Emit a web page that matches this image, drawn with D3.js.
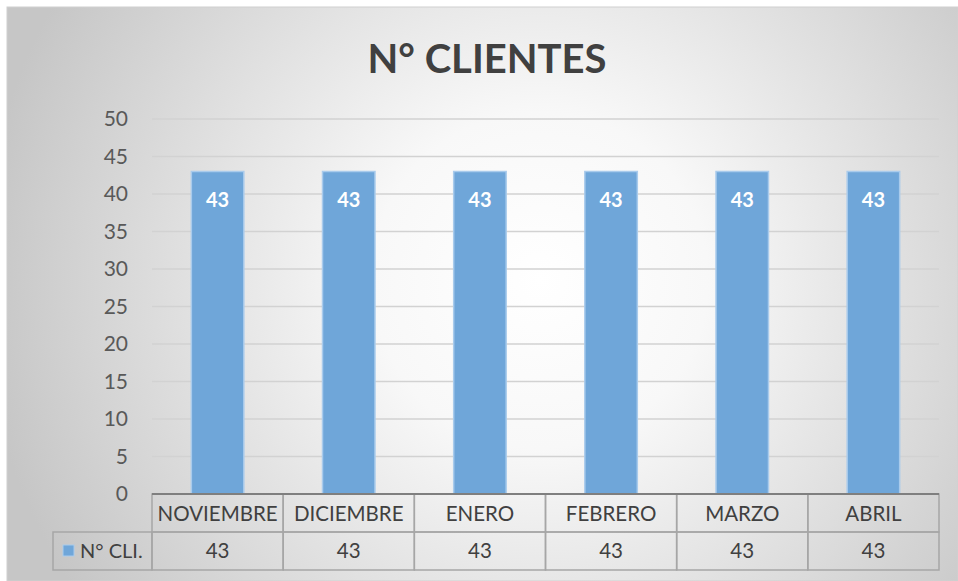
<!DOCTYPE html>
<html>
<head>
<meta charset="utf-8">
<script src="https://cdn.jsdelivr.net/npm/d3@7"></script>
<style>
  body { margin: 0; background: #fff; }
  text { font-family: Lato, "Open Sans", sans-serif; }
</style>
</head>
<body>
<div class="chart" style="width:958px;height:581px"></div>
<script>
// data
const months = ['NOVIEMBRE', 'DICIEMBRE', 'ENERO', 'FEBRERO', 'MARZO', 'ABRIL'];
const clientes = [43, 43, 43, 43, 43, 43];
const yTicks = [0, 5, 10, 15, 20, 25, 30, 35, 40, 45, 50];
const seriesName = 'N° CLI.';
const title = 'N° CLIENTES';

const width = d3.select('.chart').node().clientWidth;
const height = d3.select('.chart').node().clientHeight;

const svg = d3.select('.chart').append('svg')
  .attr('width', width)
  .attr('height', height);

// background gradient like the excel chart
const defs = svg.append('defs');
const grad = defs.append('radialGradient')
  .attr('id', 'bg')
  .attr('gradientUnits', 'userSpaceOnUse')
  .attr('cx', 540).attr('cy', 280).attr('r', 560);
grad.append('stop').attr('offset', '0%').attr('stop-color', '#ffffff');
grad.append('stop').attr('offset', '30%').attr('stop-color', '#f8f8f8');
grad.append('stop').attr('offset', '100%').attr('stop-color', '#c6c6c6');

svg.append('rect')
  .attr('x', 7).attr('y', 7)
  .attr('width', width - 7).attr('height', height - 7)
  .style('fill', 'url(#bg)')
  .style('stroke', '#d0d0d0');

const pLeft = 152, pRight = 939, pTop = 119, pBottom = 494;

const x = d3.scaleBand().domain(months).range([pLeft, pRight]).paddingInner(0.6).paddingOuter(0.3);
const xCol = d3.scaleBand().domain(months).range([pLeft, pRight]);
const y = d3.scaleLinear().domain([0, 50]).range([pBottom, pTop]);

// title
svg.append('text')
  .attr('x', 487).attr('y', 73)
  .attr('text-anchor', 'middle')
  .style('font-size', '40px')
  .style('font-weight', 'bold')
  .style('fill', '#404040')
  .text(title);

// gridlines
svg.append('g')
  .selectAll('line')
  .data(yTicks.filter(d => d > 0))
  .join('line')
  .attr('x1', pLeft).attr('x2', pRight)
  .attr('y1', d => y(d)).attr('y2', d => y(d))
  .style('stroke', '#d2d2d2')
  .style('stroke-width', '1.5px');

// y axis labels
const yAxis = svg.append('g')
  .attr('transform', `translate(${pLeft},0)`)
  .call(d3.axisLeft(y).tickValues(yTicks).tickSize(0).tickPadding(24));
yAxis.select('.domain').remove();
yAxis.selectAll('text')
  .style('font-family', 'Lato, "Open Sans", sans-serif')
  .style('font-size', '21px')
  .style('fill', '#595959');

// bars
svg.append('g')
  .selectAll('rect')
  .data(clientes)
  .join('rect')
  .attr('x', (d, i) => x(months[i]))
  .attr('y', d => y(d))
  .attr('width', x.bandwidth())
  .attr('height', d => y(0) - y(d))
  .style('fill', '#6fa6d9')
  .style('stroke', '#a9cbec')
  .style('stroke-width', '1.5px');

// bar labels
svg.append('g')
  .selectAll('text')
  .data(clientes)
  .join('text')
  .attr('x', (d, i) => x(months[i]) + x.bandwidth() / 2)
  .attr('y', d => y(d) + 35)
  .attr('text-anchor', 'middle')
  .style('font-size', '20px')
  .style('font-weight', 'bold')
  .style('fill', '#ffffff')
  .text(d => d);

// data table
const rowH = 38;
const table = svg.append('g');

table.selectAll('rect.head')
  .data(months)
  .join('rect')
  .attr('class', 'head')
  .attr('x', d => xCol(d))
  .attr('y', pBottom)
  .attr('width', xCol.bandwidth())
  .attr('height', rowH)
  .style('fill', 'none')
  .style('stroke', '#a6a6a6')
  .style('stroke-width', '1.5px');

table.selectAll('rect.val')
  .data(months)
  .join('rect')
  .attr('class', 'val')
  .attr('x', d => xCol(d))
  .attr('y', pBottom + rowH)
  .attr('width', xCol.bandwidth())
  .attr('height', rowH)
  .style('fill', 'none')
  .style('stroke', '#a6a6a6')
  .style('stroke-width', '1.5px');

// legend cell
table.append('rect')
  .attr('x', 53).attr('y', pBottom + rowH)
  .attr('width', pLeft - 53).attr('height', rowH)
  .style('fill', 'none')
  .style('stroke', '#a6a6a6')
  .style('stroke-width', '1.5px');

table.append('rect')
  .attr('x', 63).attr('y', pBottom + rowH + 13)
  .attr('width', 11).attr('height', 11)
  .style('fill', '#6fa6d9')
  .style('stroke', '#a9cbec');

table.append('text')
  .attr('x', 80).attr('y', pBottom + rowH + 26)
  .style('font-size', '20px')
  .style('fill', '#404040')
  .text(seriesName);

// axis line on top of table
svg.append('line')
  .attr('x1', pLeft).attr('x2', pRight)
  .attr('y1', pBottom).attr('y2', pBottom)
  .style('stroke', '#7f7f7f')
  .style('stroke-width', '2px');

table.selectAll('text.cat')
  .data(months)
  .join('text')
  .attr('class', 'cat')
  .attr('x', d => xCol(d) + xCol.bandwidth() / 2)
  .attr('y', pBottom + 27)
  .attr('text-anchor', 'middle')
  .style('font-size', '20.5px')
  .style('fill', '#404040')
  .text(d => d);

table.selectAll('text.num')
  .data(clientes)
  .join('text')
  .attr('class', 'num')
  .attr('x', (d, i) => xCol(months[i]) + xCol.bandwidth() / 2)
  .attr('y', pBottom + rowH + 26)
  .attr('text-anchor', 'middle')
  .style('font-size', '20.5px')
  .style('fill', '#404040')
  .text(d => d);
</script>
</body>
</html>
